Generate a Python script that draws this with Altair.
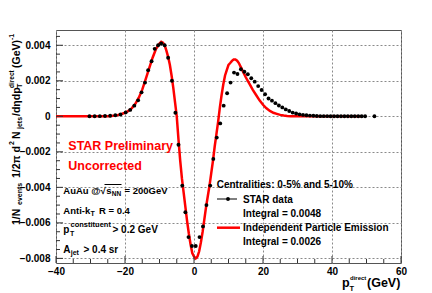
import altair as alt
import pandas as pd

# ---------------- data ----------------
star_x = [-30.3, -28.8, -27.3, -25.8, -24.3, -22.8, -21.3, -19.8, -18.5, -17.3,
          -16.2, -15.2, -14.2, -13.3, -12.3, -11.4, -10.4, -9.5, -8.5, -7.5,
          -6.4, -5.4, -4.5, -3.4, -2.5, -1.6, -0.6, 0.5, 1.6, 2.6,
          3.6, 4.7, 5.6, 6.6, 7.6, 8.6, 9.6, 10.6, 11.6, 12.6,
          13.6, 14.6, 15.6, 16.6, 17.6, 18.6, 19.6, 20.6, 21.6, 22.6,
          23.6, 24.6, 25.6, 26.6, 27.6, 28.6, 29.6, 30.6, 31.6, 32.6,
          33.6, 34.6, 35.6, 36.6, 37.6, 38.6, 39.6, 40.6, 41.6, 42.6,
          43.6, 44.6, 45.6, 46.6, 47.6, 48.6, 49.6, 52.3]
star_y = [0.0, 0.0, 0.00001, 0.00002, 0.00003, 0.00006, 0.0001, 0.00022, 0.00036, 0.0006,
          0.0009, 0.00135, 0.0019, 0.0026, 0.0031, 0.0038, 0.0040, 0.0041, 0.0040, 0.0033,
          0.0020, 0.0002, -0.0016, -0.0039, -0.0054, -0.0068, -0.0073, -0.0073, -0.0068, -0.0062,
          -0.0050, -0.0039, -0.0024, -0.0012, -0.0004, 0.0006, 0.0013, 0.0019, 0.00246, 0.00238,
          0.00265, 0.00251, 0.00237, 0.00214, 0.00195, 0.0017, 0.00148, 0.00124, 0.0010, 0.00088,
          0.00074, 0.00061, 0.0005, 0.00039, 0.0003, 0.00021, 0.00016, 0.00011, 0.00008, 0.00006,
          0.00004, 0.00003, 0.00002, 0.00001, 0.00001, 0.00001, 0.0, 0.0, 0.0, 0.0,
          0.0, 0.0, 0.0, 0.0, 0.0, 0.0, 0.0, 0.0]

ipe_x = [-40, -35, -30, -27, -25, -24, -23, -22, -21, -20, -19, -18, -17, -16, -15,
         -14, -13, -12, -11, -10, -9.5, -9, -8.5, -8, -7.5, -7, -6.5, -6, -5.5, -5,
         -4.5, -4, -3.5, -3, -2.5, -2, -1.5, -1, -0.5, 0, 0.5, 1, 1.5, 2, 2.5,
         3, 3.5, 4, 4.5, 5, 5.5, 6, 6.5, 7, 7.5, 8, 8.5, 9, 9.5, 10,
         10.5, 11, 11.5, 12, 12.5, 13, 13.5, 14, 15, 16, 17, 18, 19, 20, 21,
         22, 23, 24, 25, 26, 27, 28, 30, 35, 40, 45, 49]
ipe_y = [0, 0, 0, 0, 0.00001, 0.00002, 0.00004, 0.00007, 0.00013, 0.0002, 0.0003, 0.00046, 0.0007, 0.00105, 0.0015,
         0.0021, 0.0027, 0.0033, 0.0038, 0.0041, 0.0042, 0.00415, 0.0040, 0.0037, 0.00335, 0.0029, 0.0023, 0.0016, 0.0008, 0.0,
         -0.0013, -0.0025, -0.0035, -0.0043, -0.0051, -0.0059, -0.0066, -0.0072, -0.0077, -0.0079, -0.0080, -0.0079, -0.0076, -0.0071, -0.0065,
         -0.0058, -0.0051, -0.0045, -0.0039, -0.0032, -0.0025, -0.0017, -0.0010, -0.0003, 0.0005, 0.0012, 0.0018, 0.0023, 0.0026, 0.0029,
         0.0030, 0.00312, 0.0032, 0.0032, 0.00313, 0.0030, 0.0028, 0.0026, 0.0022, 0.00185, 0.0015, 0.0012, 0.0009, 0.00065, 0.00045,
         0.0003, 0.0002, 0.00014, 0.00008, 0.00004, 0.00002, 0.00001, 0, 0, 0, 0, 0]

x_major = [-40, -20, 0, 20, 40, 60]
x_minor = [-35, -30, -25, -15, -10, -5, 5, 10, 15, 25, 30, 35, 45, 50, 55]
y_major = [-0.008, -0.006, -0.004, -0.002, 0.0, 0.002, 0.004]
y_minor = [-0.0075, -0.007, -0.0065, -0.0055, -0.005, -0.0045, -0.0035, -0.003, -0.0025,
           -0.0015, -0.001, -0.0005, 0.0005, 0.001, 0.0015, 0.0025, 0.003, 0.0035, 0.0045]

# ---------------- layout ----------------
FONT = "Liberation Sans"
W, H = 345, 233
L0, T0 = 56, 30   # page position of plot area

xs = alt.Scale(domain=[-40, 60], nice=False, zero=False)
ys = alt.Scale(domain=[-0.00826, 0.00486], nice=False, zero=False)

AX = alt.Axis(values=x_major, ticks=False, domain=False, grid=True, gridDash=[2, 2],
              gridColor="#8a8a8a", gridWidth=1, labelFont=FONT, labelFontSize=10,
              labelFontWeight="bold", labelColor="black", labelPadding=3,
              labelFlush=False, labelOverlap=False, title=None)
AY = alt.Axis(values=y_major, ticks=False, domain=False, grid=True, gridDash=[2, 2],
              gridColor="#8a8a8a", gridWidth=1, labelFont=FONT, labelFontSize=10,
              labelFontWeight="bold", labelColor="black", labelPadding=6,
              labelOverlap=False,
              labelExpr="abs(datum.value) < 1e-9 ? '0' : format(datum.value, '.3f')",
              title=None)

star = pd.DataFrame({"x": star_x, "y": star_y})
ipe = pd.DataFrame({"x": ipe_x, "y": ipe_y})

red_line = alt.Chart(ipe).mark_line(color="#ff0000", strokeWidth=2.5).encode(
    x=alt.X("x:Q", scale=xs, axis=AX), y=alt.Y("y:Q", scale=ys, axis=AY))
star_pts = alt.Chart(star).mark_point(filled=True, color="black", size=15, opacity=1, shape="circle").encode(
    x=alt.X("x:Q", scale=xs, axis=AX), y=alt.Y("y:Q", scale=ys, axis=AY))

def ticks_y(vals, length):
    return alt.Chart(pd.DataFrame({"y": vals})).mark_rule(color="#333", strokeWidth=1).encode(
        y=alt.Y("y:Q", scale=ys, axis=AY), x=alt.value(0), x2=alt.value(length))

def ticks_x(vals, length):
    return alt.Chart(pd.DataFrame({"x": vals})).mark_rule(color="#333", strokeWidth=1).encode(
        x=alt.X("x:Q", scale=xs, axis=AX), y=alt.value(H), y2=alt.value(H - length))

def txt(s, px, py, size=10, color="black", angle=0, weight="bold"):
    return alt.Chart(pd.DataFrame({"t": [s]})).mark_text(
        font=FONT, fontSize=size, fontWeight=weight, color=color, angle=angle,
        align="left", baseline="alphabetic").encode(
        text="t:N", x=alt.value(px - L0), y=alt.value(py - T0))

def seg(x1, y1, x2, y2, color="black", width=1):
    return alt.Chart(pd.DataFrame({"a": [0]})).mark_rule(color=color, strokeWidth=width).encode(
        x=alt.value(x1 - L0), x2=alt.value(x2 - L0), y=alt.value(y1 - T0), y2=alt.value(y2 - T0))

def dot(px, py):
    return alt.Chart(pd.DataFrame({"a": [0]})).mark_point(filled=True, color="black", size=15, opacity=1).encode(
        x=alt.value(px - L0), y=alt.value(py - T0))

layers = [red_line, star_pts,
          ticks_y(y_major, 7), ticks_y(y_minor, 4),
          ticks_x(x_major, 7), ticks_x(x_minor, 4)]

# y-axis title (rotated, reads bottom -> top)
R = 270
YB = 19.5   # baseline of main text
SUB = YB + 2.5
SUP = YB - 5.5
layers += [
    txt("1/N", YB, 225, 10.5, angle=R),
    txt("events", SUB, 205, 7, angle=R),
    txt("1/2π d", YB, 178, 10.5, angle=R),
    txt("2", SUP, 145, 7, angle=R),
    txt("N", YB, 139, 10.5, angle=R),
    txt("jets", SUB, 129, 7, angle=R),
    txt("/dηdp", YB, 116, 10.5, angle=R),
    txt("T", SUB, 88, 7, angle=R),
    txt("direct", SUP, 88, 6.5, angle=R),
    txt("(GeV)", YB, 68, 10.5, angle=R),
    txt("-1", SUP, 40, 7, angle=R),
]

# x-axis title
layers += [
    txt("p", 342, 287, 12.5),
    txt("T", 349.5, 291, 7.5),
    txt("direct", 350, 280, 6),
    txt("(GeV)", 367, 287, 12.5),
]

# annotations on the left
layers += [
    txt("STAR Preliminary", 68.3, 150, 12.5, color="#ff0000"),
    txt("Uncorrected", 68.3, 170, 12.5, color="#ff0000"),
    txt("AuAu @√", 63.3, 193.5, 9.5),
    txt("s", 106.3, 193.5, 9.5),
    txt("NN", 111.8, 196, 6.5),
    txt("= 200GeV", 124.5, 193.5, 9.5),
    seg(104.5, 184.5, 121.5, 184.5),
    txt("Anti-k", 63.3, 213.5, 9.5),
    txt("T", 90.6, 216, 7),
    txt("R = 0.4", 99, 213.5, 9.5),
    txt("p", 63.3, 233, 10),
    txt("T", 70.0, 236, 7),
    txt("constituent", 70.5, 227, 7.5),
    txt("> 0.2 GeV", 112.5, 233, 10),
    txt("A", 63.3, 252.5, 10),
    txt("jet", 70.7, 255, 7),
    txt("> 0.4 sr", 83.5, 252.5, 10),
]

# legend
layers += [
    txt("Centralities: 0-5% and 5-10%", 216.7, 187.5, 10),
    seg(217, 199, 237, 199, color="#555", width=1.5),
    dot(228, 199),
    txt("STAR data", 243, 202.5, 10),
    txt("Integral = 0.0048", 243, 216.5, 10),
    seg(217, 227.7, 240, 227.7, color="#ff0000", width=2.5),
    txt("Independent Particle Emission", 243, 231, 10),
    txt("Integral = 0.0026", 243, 245, 10),
]

chart = alt.layer(*layers).properties(
    width=W, height=H,
    autosize=alt.AutoSizeParams(type="none"),
    padding={"left": L0 - 8, "top": T0 - 8, "right": 20, "bottom": 30},
    background="white",
).configure_view(stroke="#555", strokeWidth=1)

chart.save("out.html", embed_options={"renderer": "svg", "actions": False})
